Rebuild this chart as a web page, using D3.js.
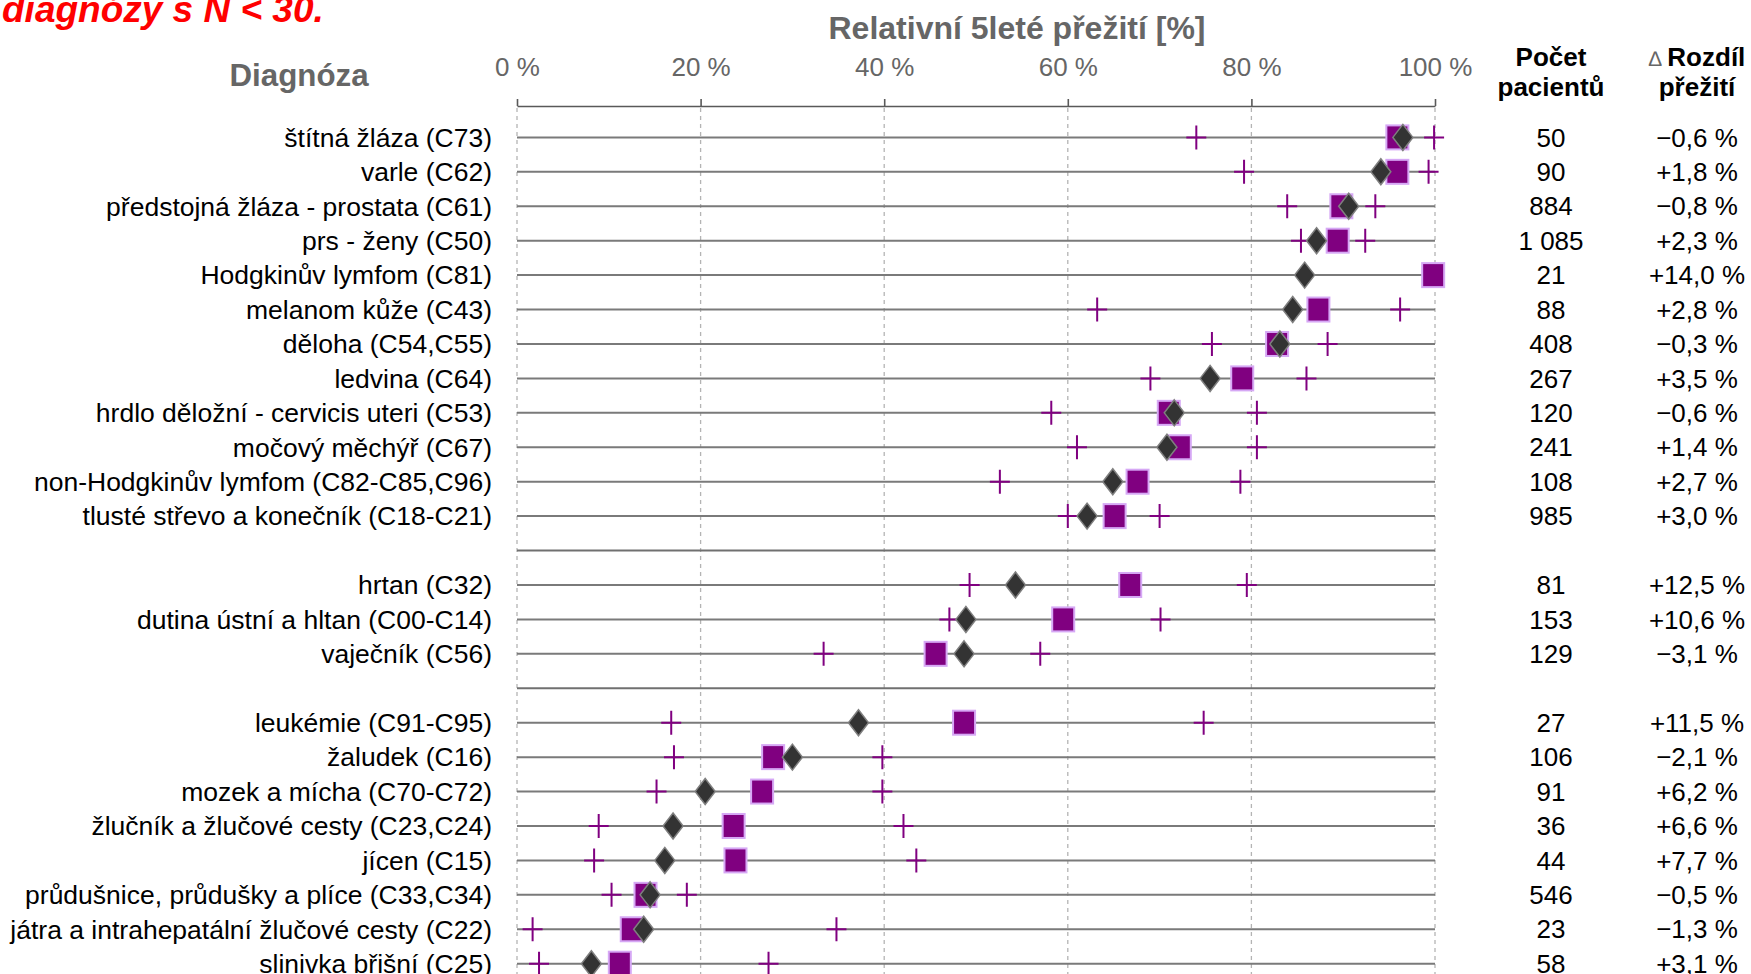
<!DOCTYPE html>
<html lang="cs">
<head>
<meta charset="utf-8">
<title>Relativní 5leté přežití</title>
<script src="https://cdn.jsdelivr.net/npm/d3@7"></script>
<style>
  html, body { margin: 0; padding: 0; background: #fff; }
  svg { display: block; font-family: "Liberation Sans", Arial, sans-serif; }
</style>
</head>
<body>
<svg id="chart" width="1751" height="974"></svg>
<script>
// diagnoses, top to bottom; groups are split by an empty row
const diagnoses = [
  'štítná žláza (C73)',
  'varle (C62)',
  'předstojná žláza - prostata (C61)',
  'prs - ženy (C50)',
  'Hodgkinův lymfom (C81)',
  'melanom kůže (C43)',
  'děloha (C54,C55)',
  'ledvina (C64)',
  'hrdlo děložní - cervicis uteri (C53)',
  'močový měchýř (C67)',
  'non-Hodgkinův lymfom (C82-C85,C96)',
  'tlusté střevo a konečník (C18-C21)',
  'hrtan (C32)',
  'dutina ústní a hltan (C00-C14)',
  'vaječník (C56)',
  'leukémie (C91-C95)',
  'žaludek (C16)',
  'mozek a mícha (C70-C72)',
  'žlučník a žlučové cesty (C23,C24)',
  'jícen (C15)',
  'průdušnice, průdušky a plíce (C33,C34)',
  'játra a intrahepatální žlučové cesty (C22)',
  'slinivka břišní (C25)',
];
const groupSizes = [12, 3, 8];

const patients = [50, 90, 884, 1085, 21, 88, 408, 267, 120, 241, 108, 985,
  81, 153, 129, 27, 106, 91, 36, 44, 546, 23, 58];

// region (square), whole country (diamond), 95% CI of region (crosses)
const regionSurvival = [95.9, 95.9, 89.8, 89.4, 99.8, 87.3, 82.8, 79.0, 71.0, 72.2, 67.6, 65.1,
  66.8, 59.5, 45.6, 48.7, 27.9, 26.7, 23.6, 23.8, 14.0, 12.5, 11.2];
const czSurvival = [96.5, 94.1, 90.6, 87.1, 85.8, 84.5, 83.1, 75.5, 71.6, 70.8, 64.9, 62.1,
  54.3, 48.9, 48.7, 37.2, 30.0, 20.5, 17.0, 16.1, 14.5, 13.8, 8.1];
const ciLower = [74.0, 79.2, 83.9, 85.4, 100, 63.2, 75.7, 69.0, 58.2, 61.0, 52.6, 60.0,
  49.3, 47.1, 33.4, 16.8, 17.1, 15.2, 8.9, 8.4, 10.3, 1.7, 2.4];
const ciUpper = [99.9, 99.3, 93.5, 92.4, 100, 96.2, 88.3, 86.0, 80.6, 80.6, 78.8, 70.0,
  79.5, 70.1, 57.0, 74.8, 39.8, 39.8, 42.1, 43.5, 18.5, 34.8, 27.4];
const survivalDiff = [-0.6, 1.8, -0.8, 2.3, 14.0, 2.8, -0.3, 3.5, -0.6, 1.4, 2.7, 3.0,
  12.5, 10.6, -3.1, 11.5, -2.1, 6.2, 6.6, 7.7, -0.5, -1.3, 3.1];

const xTicks = [0, 20, 40, 60, 80, 100];

const svg = d3.select('#chart');

const locale = d3.formatLocale({
  decimal: ',', thousands: '\u00a0', grouping: [3], currency: ['', ''], minus: '\u2212',
});
const fmtCount = locale.format(',d');
const fmtDiff = locale.format('+.1f');

// row keys with separators between groups
const rowKeys = [];
let start = 0;
groupSizes.forEach((size, g) => {
  if (g > 0) rowKeys.push(`sep${g}`);
  for (let i = start; i < start + size; i += 1) rowKeys.push(`r${i}`);
  start += size;
});

const x = d3.scaleLinear().domain([0, 100]).range([517, 1435]);
const y = d3.scalePoint().domain(rowKeys).range([137.4, 963.7]);
const axisY = 106;

const rows = diagnoses.map((name, i) => ({
  key: `r${i}`,
  name,
  n: patients[i],
  region: regionSurvival[i],
  cz: czSurvival[i],
  lo: ciLower[i],
  hi: ciUpper[i],
  diff: survivalDiff[i],
}));

// header texts
svg.append('text')
  .attr('x', 2).attr('y', 22)
  .attr('fill', '#ff0000')
  .attr('font-size', 37).attr('font-weight', 'bold').attr('font-style', 'italic')
  .text('diagnózy s N < 30.');

svg.append('text')
  .attr('x', 1017).attr('y', 39)
  .attr('text-anchor', 'middle')
  .attr('fill', '#666').attr('font-size', 32).attr('font-weight', 'bold')
  .text('Relativní 5leté přežití [%]');

svg.append('text')
  .attr('x', 299).attr('y', 86)
  .attr('text-anchor', 'middle')
  .attr('fill', '#666').attr('font-size', 31.3).attr('font-weight', 'bold')
  .text('Diagnóza');

const head = svg.append('g').attr('font-size', 26).attr('font-weight', 'bold').attr('fill', '#000');
head.append('text').attr('x', 1551).attr('y', 66).attr('text-anchor', 'middle').text('Počet');
head.append('text').attr('x', 1551).attr('y', 96).attr('text-anchor', 'middle').text('pacientů');
const deltaHead = head.append('text').attr('x', 1697).attr('y', 66).attr('text-anchor', 'middle');
deltaHead.append('tspan').attr('font-size', 21).attr('font-weight', 'normal').attr('fill', '#666').text('\u2206 ');
deltaHead.append('tspan').text('Rozdíl');
head.append('text').attr('x', 1697).attr('y', 96).attr('text-anchor', 'middle').text('přežití');

// grid
svg.append('g')
  .selectAll('line')
  .data(xTicks)
  .join('line')
  .attr('x1', (d) => x(d)).attr('x2', (d) => x(d))
  .attr('y1', axisY + 2).attr('y2', 974)
  .attr('stroke', '#b4b4b4')
  .attr('stroke-width', 1.3)
  .attr('stroke-dasharray', '4,4');

// top axis
const axis = svg.append('g')
  .attr('transform', `translate(0,${axisY})`)
  .call(d3.axisTop(x).tickValues(xTicks).tickFormat((d) => `${d} %`)
    .tickSize(7).tickSizeOuter(0).tickPadding(23));
axis.select('.domain').attr('stroke', '#595959').attr('stroke-width', 1.6);
axis.selectAll('.tick line').attr('stroke', '#595959').attr('stroke-width', 1.6);
axis.selectAll('.tick text')
  .attr('fill', '#666').attr('font-size', 26)
  .attr('font-family', '"Liberation Sans", Arial, sans-serif');

// row lines, separators included
svg.append('g')
  .selectAll('line')
  .data(rowKeys)
  .join('line')
  .attr('x1', x(0)).attr('x2', x(100))
  .attr('y1', (d) => y(d)).attr('y2', (d) => y(d))
  .attr('stroke', (d) => (d.startsWith('sep') ? '#707070' : '#7a7a7a'))
  .attr('stroke-width', 2);

// labels
svg.append('g')
  .selectAll('text')
  .data(rows)
  .join('text')
  .attr('x', 492).attr('y', (d) => y(d.key)).attr('dy', '0.35em')
  .attr('text-anchor', 'end').attr('font-size', 26.5).attr('fill', '#000')
  .text((d) => d.name);

// confidence interval crosses
const ciPoints = rows.flatMap((d) => [{ key: d.key, v: d.lo }, { key: d.key, v: d.hi }]);
svg.append('g')
  .selectAll('path')
  .data(ciPoints)
  .join('path')
  .attr('transform', (d) => `translate(${x(d.v)},${y(d.key)})`)
  .attr('d', 'M-10,0H10M0,-12V12')
  .attr('fill', 'none')
  .attr('stroke', '#800080')
  .attr('stroke-width', 2);

// region squares
svg.append('g')
  .selectAll('rect')
  .data(rows)
  .join('rect')
  .attr('x', (d) => x(d.region) - 11).attr('y', (d) => y(d.key) - 12)
  .attr('width', 22).attr('height', 24)
  .attr('fill', '#800080')
  .attr('stroke', '#d6a8f5')
  .attr('stroke-width', 2);

// national diamonds
svg.append('g')
  .selectAll('path')
  .data(rows)
  .join('path')
  .attr('transform', (d) => `translate(${x(d.cz)},${y(d.key)})`)
  .attr('d', 'M0,-13L10,0L0,13L-10,0Z')
  .attr('fill', '#333')
  .attr('stroke', '#7f7f7f')
  .attr('stroke-width', 1.5);

// right columns
svg.append('g')
  .selectAll('text')
  .data(rows)
  .join('text')
  .attr('x', 1551).attr('y', (d) => y(d.key)).attr('dy', '0.35em')
  .attr('text-anchor', 'middle').attr('font-size', 26).attr('fill', '#000')
  .text((d) => fmtCount(d.n));

svg.append('g')
  .selectAll('text')
  .data(rows)
  .join('text')
  .attr('x', 1697).attr('y', (d) => y(d.key)).attr('dy', '0.35em')
  .attr('text-anchor', 'middle').attr('font-size', 26).attr('fill', '#000')
  .text((d) => `${fmtDiff(d.diff)} %`);
</script>
</body>
</html>
